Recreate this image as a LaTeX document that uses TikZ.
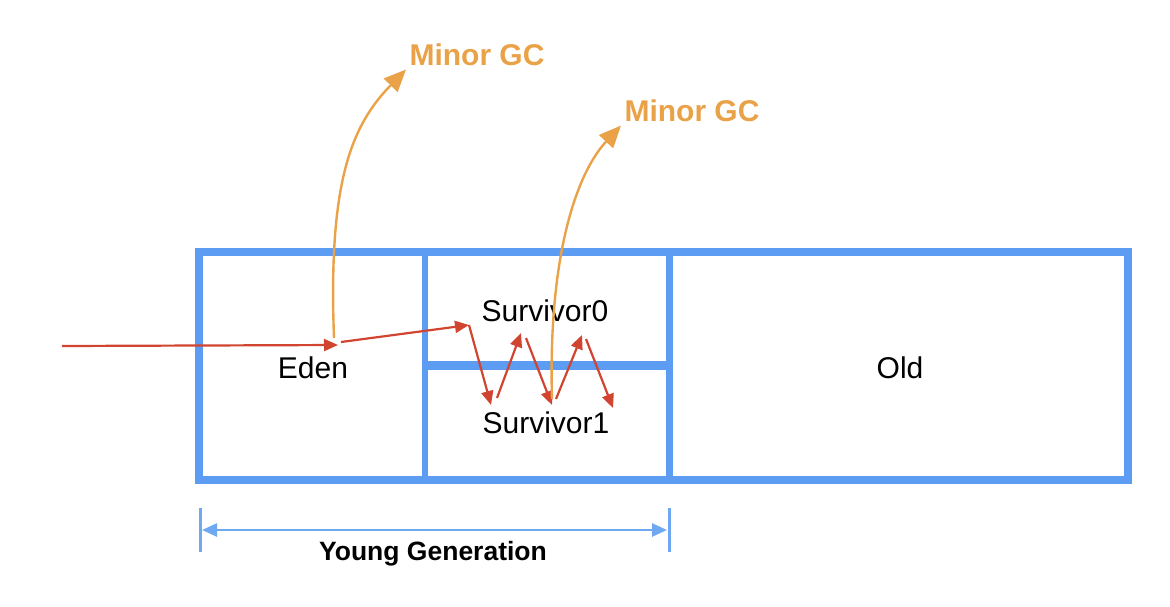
\documentclass[tikz,border=0pt]{standalone}
\usepackage{fontspec}
\setmainfont{Liberation Sans}
\usepackage{xcolor}
\usetikzlibrary{positioning,calc,arrows.meta}

\definecolor{heapblue}{RGB}{92,156,242}
\definecolor{dimblue}{RGB}{110,168,240}
\definecolor{gcorange}{RGB}{234,162,72}
\definecolor{moved}{RGB}{208,68,48}

\tikzset{
    region/.style={font=\fontsize{30}{36}\selectfont, text=black},
    gclabel/.style={font=\bfseries\fontsize{30}{36}\selectfont, text=gcorange},
    copyarrow/.style={moved, line width=2.2pt, -{Triangle[length=14pt,width=12pt]}},
    gcarrow/.style={gcorange, line width=2.4pt, -{Triangle[length=22pt,width=19pt]}}
}

\begin{document}
\begin{tikzpicture}[x=1pt,y=-1pt]
    \useasboundingbox (0,0) rectangle (1170,606);

    % Heap outline
    \draw [heapblue, line width=8pt] (199,252) rectangle (1128,480);
    \draw [heapblue, line width=6pt] (425,252) -- (425,480);
    \draw [heapblue, line width=7pt] (669,252) -- (669,480);
    \draw [heapblue, line width=9pt] (425,365) -- (669,365);

    % Regions
    \node [region] (eden) at (313,368) {Eden};
    \node [region] (s0) at (545,311) {Survivor0};
    \node [region] (s1) at (546,423) {Survivor1};
    \node [region] (old) at (900,368) {Old};

    % Minor GC labels
    \node [gclabel] (gc1) at (477,55) {Minor GC};
    \node [gclabel] (gc2) at (692,111) {Minor GC};

    % Allocation path
    \coordinate (new) at (62,346);
    \coordinate (e1) at (338,345);
    \coordinate (e2) at (341,342);
    \coordinate (z0) at (469,325);
    \coordinate (z1) at (491,405);
    \coordinate (z2) at (497,398);
    \coordinate (z3) at (521,333);
    \coordinate (z4) at (526,338);
    \coordinate (z5) at (552,405);
    \coordinate (z6) at (556,399);
    \coordinate (z7) at (582,335);
    \coordinate (z8) at (586,339);
    \coordinate (z9) at (613,408);

    \draw [copyarrow] (new) -- (e1);
    \draw [copyarrow] (e2) -- (z0);
    \draw [copyarrow] (z0) -- (z1);
    \draw [copyarrow] (z2) -- (z3);
    \draw [copyarrow] (z4) -- (z5);
    \draw [copyarrow] (z6) -- (z7);
    \draw [copyarrow] (z8) -- (z9);

    % Minor GC arrows
    \coordinate (g1) at (334,338);
    \coordinate (g2) at (552,399);
    \draw [gcarrow] (g1) .. controls (328,180) and (352,125) .. (gc1.south west);
    \draw [gcarrow] (g2) .. controls (548,260) and (575,175) .. (gc2.south west);

    % Young Generation span
    \coordinate (ya) at (200,508);
    \coordinate (yb) at (669,508);
    \draw [dimblue, line width=3pt] (ya) -- ++(0,44);
    \draw [dimblue, line width=3pt] (yb) -- ++(0,44);
    \draw [dimblue, line width=2.5pt, {Triangle[length=15pt,width=13pt]}-{Triangle[length=15pt,width=13pt]}]
        ($(ya)+(2,22)$) -- ($(yb)+(-2,22)$);
    \node [font=\bfseries\fontsize{26.5}{32}\selectfont] (young) at (433,554) {Young Generation};
\end{tikzpicture}
\end{document}
